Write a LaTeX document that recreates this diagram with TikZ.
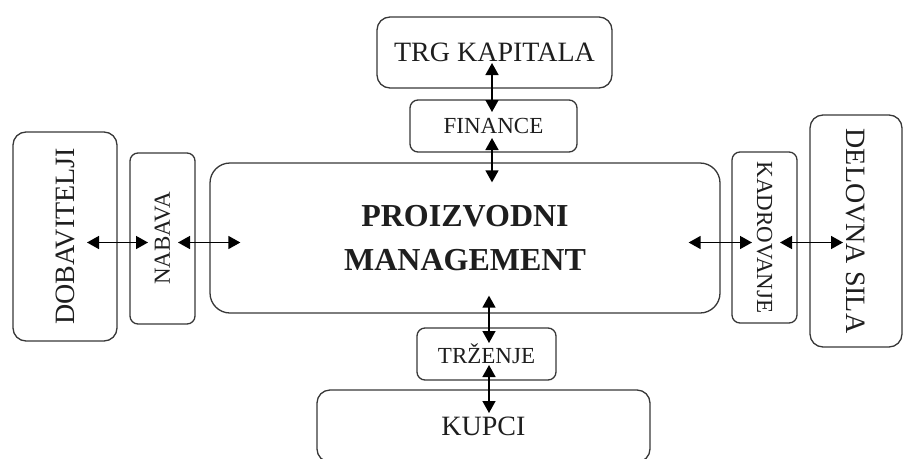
\documentclass[tikz,border=0pt]{standalone}
\usepackage{fontspec}
\setmainfont{Liberation Serif}
\usetikzlibrary{positioning,arrows.meta,calc}
\definecolor{LineGray}{RGB}{55,55,55}
\definecolor{TextDark}{RGB}{30,30,30}
\tikzset{
  biarrow/.style={{Triangle[length=12pt,width=13pt]}-{Triangle[length=12pt,width=13pt]},line width=1.5pt,draw=black},
  bigbox/.style={draw=LineGray,line width=1.3pt,rounded corners=13pt,inner sep=0pt,
    text=TextDark,font=\fontsize{28}{30}\selectfont},
  smallbox/.style={draw=LineGray,line width=1.3pt,rounded corners=8pt,inner sep=0pt,
    text=TextDark,font=\fontsize{23}{25}\selectfont},
  mainbox/.style={draw=LineGray,line width=1.3pt,rounded corners=20pt,inner sep=0pt,
    align=center,text=TextDark,font=\fontsize{32}{44}\selectfont\bfseries}
}

\begin{document}
\begin{tikzpicture}[x=1pt,y=1pt]
  \useasboundingbox (0,0) rectangle (904,-458);
  \clip (0,0) rectangle (904,-458);

  % centre and sides
  \node[mainbox,minimum width=510pt,minimum height=150pt] (main) at (465,-238) {PROIZVODNI\\MANAGEMENT};
  \node[smallbox,rotate=90,minimum width=171pt,minimum height=65pt] (nab) at (162.5,-238.5) {NABAVA};
  \node[bigbox,rotate=90,minimum width=209pt,minimum height=104pt] (dob) at (65,-236.5) {DOBAVITELJI};
  \node[smallbox,rotate=-90,minimum width=171pt,minimum height=65pt] (kad) at (764.5,-237.5) {KADROVANJE};
  \node[bigbox,rotate=-90,minimum width=232pt,minimum height=92pt] (del) at (856,-231) {DELOVNA SILA};

  % top and bottom
  \node[smallbox,minimum width=167pt,minimum height=52pt] (fin) at (493.5,-126) {FINANCE};
  \node[bigbox,minimum width=235pt,minimum height=71pt] (trg) at (494.5,-52.5) {TRG KAPITALA};
  \node[smallbox,minimum width=139pt,minimum height=52pt] (trz) at (486.5,-354) {TRŽENJE};
  \node[bigbox,minimum width=333pt,minimum height=72pt] (kup) at (483.5,-426) {KUPCI};

  \coordinate (row) at (0,-242.5);
  \coordinate (colT) at (492,0);
  \coordinate (colB) at (489,0);

  \draw[biarrow] ([xshift=22pt]dob.center |- row) -- ([xshift=-14.5pt]nab.center |- row);
  \draw[biarrow] ([xshift=15.5pt]nab.center |- row) -- ([xshift=31pt]main.west |- row);
  \draw[biarrow] ([xshift=-32pt]main.east |- row) -- ([xshift=-12.5pt]kad.center |- row);
  \draw[biarrow] ([xshift=15.5pt]kad.center |- row) -- ([xshift=-13pt]del.center |- row);

  \draw[biarrow] ([yshift=-10.5pt]trg.center -| colT) -- ([yshift=14pt]fin.center -| colT);
  \draw[biarrow] ([yshift=-12pt]fin.center -| colT) -- ([yshift=-20pt]main.north -| colT);
  \draw[biarrow] ([yshift=18pt]main.south -| colB) -- ([yshift=11pt]trz.center -| colB);
  \draw[biarrow] ([yshift=-11pt]trz.center -| colB) -- ([yshift=13pt]kup.center -| colB);
\end{tikzpicture}
\end{document}
